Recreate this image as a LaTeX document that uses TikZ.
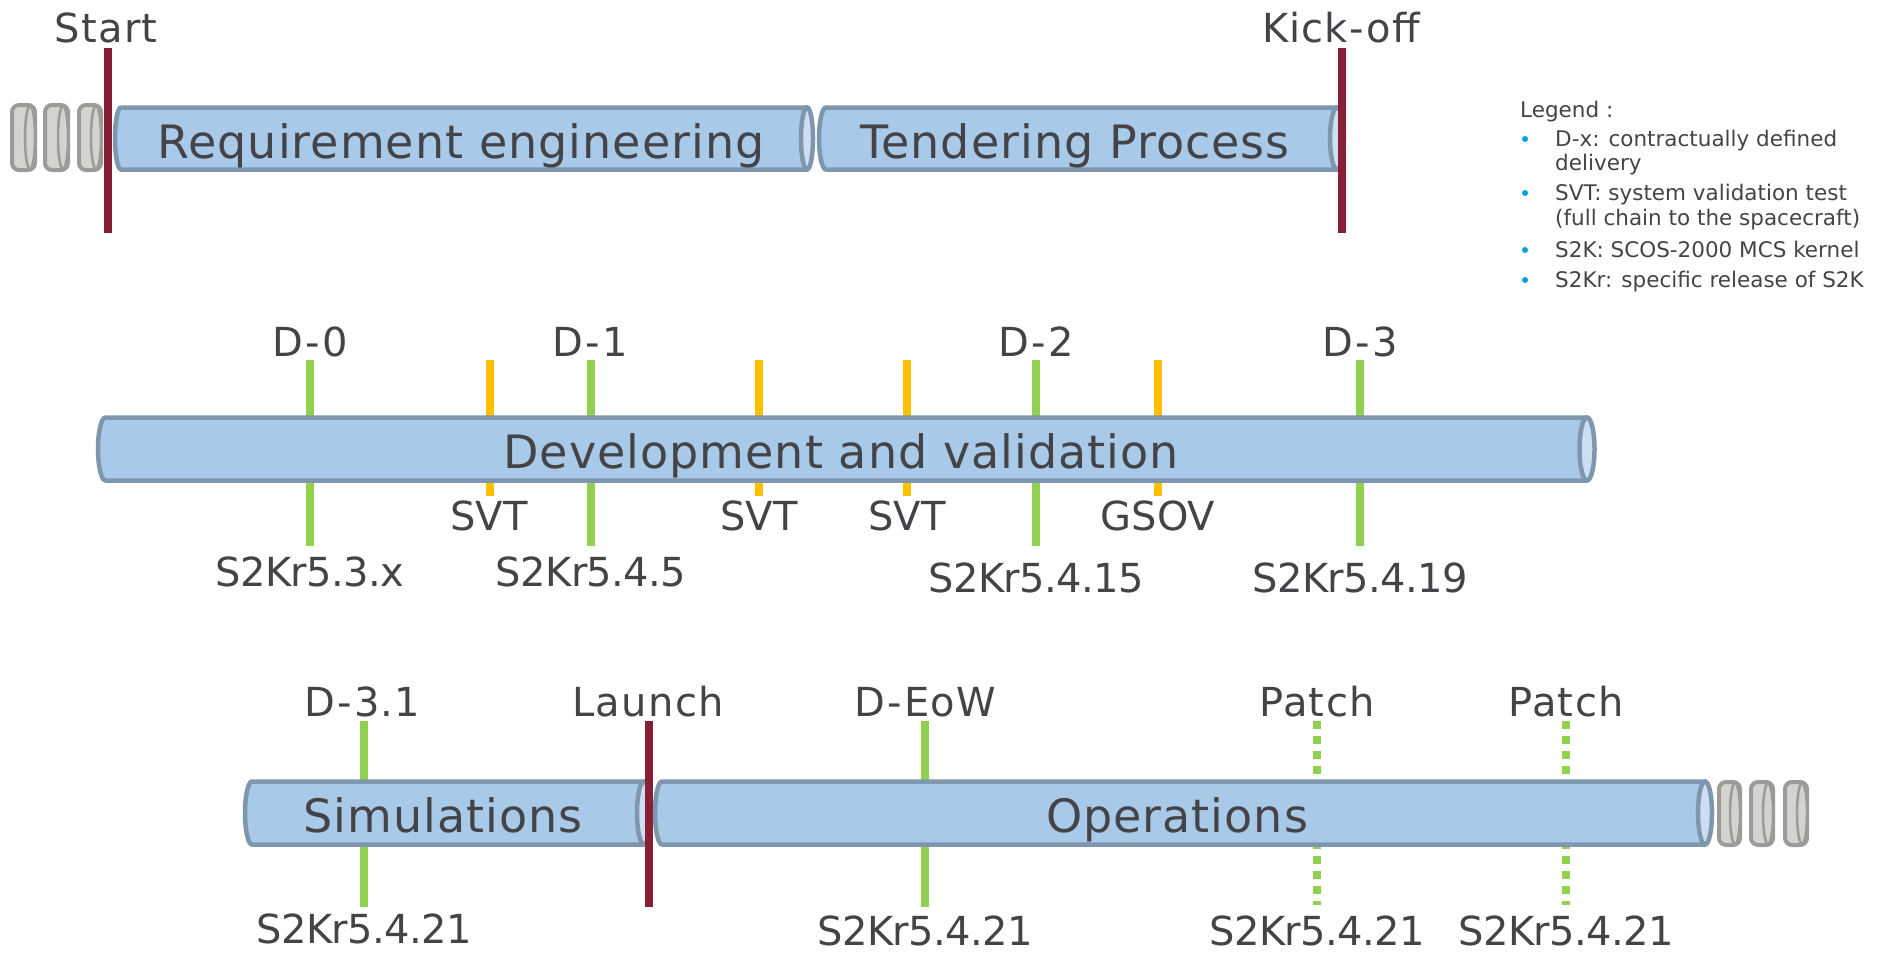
\documentclass[tikz,border=0pt]{standalone}
\usepackage{fontspec}
\setmainfont{DejaVu Sans}

\definecolor{tubefill}{RGB}{169,201,232}
\definecolor{tubeline}{RGB}{127,150,175}
\definecolor{tubeend}{RGB}{205,222,242}
\definecolor{diskfill}{RGB}{211,212,208}
\definecolor{diskline}{RGB}{155,155,153}
\definecolor{milestone}{RGB}{135,32,52}
\definecolor{delivery}{RGB}{146,208,80}
\definecolor{testmark}{RGB}{255,192,0}
\definecolor{ink}{RGB}{68,68,72}
\definecolor{bulletblue}{RGB}{0,160,222}

% horizontal cylinder: #1 left x, #2 x of the front cap, #3 top y, #4 bottom y,
% #5 cap half-width
\newcommand\cylinder[5]{%
  \draw[tube body] (#2,#3) -- ({#1+#5},#3)
    arc[start angle=90,end angle=270,x radius=#5,y radius={(#3-(#4))/2}]
    -- (#2,#4) -- cycle;
  \draw[tube cap] (#2,{(#3+(#4))/2}) ellipse[x radius=#5,y radius={(#3-(#4))/2}];
}
% grey end-of-timeline disk: #1 left x, #2 right x, #3 top y, #4 bottom y
\newcommand\disk[4]{%
  \draw[disk body] (#1,#3) rectangle (#2,#4);
  \draw[disk cap] ({#2-5},{(#3+(#4))/2}) ellipse[x radius=5,y radius={(#3-(#4))/2-1}];
}
% hyphen with a little extra room
\newcommand\hy{\kern2.5pt-\kern2.5pt}

\tikzset{
  tube body/.style={fill=tubefill,draw=tubeline,line width=4.5pt,line join=round},
  tube cap/.style={fill=tubeend,draw=tubeline,line width=4.5pt},
  disk body/.style={fill=diskfill,draw=diskline,line width=4pt,rounded corners=7pt},
  disk cap/.style={fill=diskfill,draw=diskline,line width=2.5pt},
  deliv/.style={draw=delivery,line width=8pt},
  svtmark/.style={draw=testmark,line width=8pt},
  patchmark/.style={draw=delivery,line width=8pt,dash pattern=on 8pt off 7pt},
  gate/.style={draw=milestone,line width=8pt},
  lbl/.style={text=ink,inner sep=0pt,font=\fontsize{40}{48}\selectfont,
    text height=29pt,text depth=0pt},
  wide/.style={font=\fontsize{40}{48}\selectfont\addfontfeature{LetterSpace=3.5}},
  semi/.style={font=\fontsize{40}{48}\selectfont\addfontfeature{LetterSpace=2}},
  tight/.style={font=\fontsize{40}{48}\selectfont\addfontfeature{LetterSpace=-1.5}},
  phase/.style={text=ink,inner sep=0pt,
    font=\fontsize{46}{54}\selectfont\addfontfeature{LetterSpace=2.2},
    text height=33.5pt,text depth=0pt},
  legtxt/.style={text=ink,inner sep=0pt,anchor=west,font=\fontsize{21.5}{26}\selectfont,
    text height=15.7pt,text depth=0pt},
  legdot/.style={fill=bulletblue,circle,inner sep=0pt,minimum size=6pt},
}

\begin{document}
\begin{tikzpicture}[x=1pt,y=1pt]
\useasboundingbox (0,0) rectangle (1889,-956);

% ---------- tick end points ----------
\foreach \n/\x in {d0/310,d1/591,d2/1036,d3/1360}{
  \coordinate (\n t) at (\x,-360);
  \coordinate (\n b) at (\x,-546);
}
\foreach \n/\x in {s1/490,s2/759,s3/907,gs/1158}{
  \coordinate (\n t) at (\x,-360);
  \coordinate (\n b) at (\x,-496);
}
\foreach \n/\x in {d31/364,eow/925}{
  \coordinate (\n t) at (\x,-721);
  \coordinate (\n b) at (\x,-907);
}
\foreach \n/\x in {p1/1317,p2/1566}{
  \coordinate (\n t) at (\x,-721);
  \coordinate (\n b) at (\x,-905);
}
\coordinate (startt) at (108,-48);   \coordinate (startb) at (108,-233);
\coordinate (kickt) at (1342,-48);   \coordinate (kickb) at (1342,-233);
\coordinate (launcht) at (649,-721); \coordinate (launchb) at (649,-907);

% ---------- ticks behind the tubes ----------
\foreach \n in {d0,d1,d2,d3,d31,eow}{ \draw[deliv] (\n t) -- (\n b); }
\foreach \n in {s1,s2,s3,gs}{ \draw[svtmark] (\n t) -- (\n b); }
\foreach \n in {p1,p2}{ \draw[patchmark] (\n t) -- (\n b); }

% ---------- tubes ----------
\disk{12}{35}{-105}{-170}
\disk{45}{68}{-105}{-170}
\disk{79}{101}{-105}{-170}
\cylinder{115}{807}{-107.5}{-169.5}{6}
\cylinder{819}{1337}{-107.5}{-169.5}{7}

\cylinder{98}{1587}{-417.5}{-480.5}{7.5}

\cylinder{245}{644}{-781.5}{-844.5}{7}
\cylinder{655}{1705}{-781.5}{-844.5}{7}
\disk{1719}{1740}{-782}{-845}
\disk{1751}{1773}{-782}{-845}
\disk{1785}{1807}{-782}{-845}

% ---------- milestones ----------
\draw[gate] (startt) -- (startb);
\draw[gate] (kickt) -- (kickb);
\draw[gate] (launcht) -- (launchb);

% ---------- phase names ----------
\node[phase] (req)  at (461,-141.5) {Requirement engineering};
\node[phase] (tend) at (1075,-141.5) {Tendering Process};
\node[phase] (dev)  at (841,-451.5) {Development and validation};
\node[phase] (sim)  at (443,-816) {Simulations};
\node[phase] (ops)  at (1177,-816) {Operations};

% ---------- labels ----------
\node[lbl,wide] (lstart) at (106,-28) {Start};
\node[lbl,semi] (lkick)  at (1341,-28) {Kick\hy off};

\node[lbl,semi] (ld0) at (310,-342) {D\hy 0};
\node[lbl,semi] (ld1) at (590,-342) {D\hy 1};
\node[lbl,semi] (ld2) at (1036,-342) {D\hy 2};
\node[lbl,semi] (ld3) at (1360,-342) {D\hy 3};
\node[lbl] (ls1) at (489,-516) {SVT};
\node[lbl] (ls2) at (759,-516) {SVT};
\node[lbl] (ls3) at (907,-516) {SVT};
\node[lbl] (lgs) at (1158,-516) {GSOV};
\node[lbl,tight] (r0) at (310,-572) {S2Kr5.3.x};
\node[lbl,tight] (r1) at (591,-572) {S2Kr5.4.5};
\node[lbl,tight] (r2) at (1036,-578) {S2Kr5.4.15};
\node[lbl,tight] (r3) at (1360,-578) {S2Kr5.4.19};

\node[lbl,semi] (ld31)    at (362,-702) {D\hy 3.1};
\node[lbl,wide] (llaunch) at (648,-702) {Launch};
\node[lbl,semi] (leow)    at (925,-702) {D\hy EoW};
\node[lbl,wide] (lp1)     at (1317,-702) {Patch};
\node[lbl,wide] (lp2)     at (1566,-702) {Patch};
\node[lbl,tight] (r31) at (364,-929) {S2Kr5.4.21};
\node[lbl,tight] (reo) at (925,-931) {S2Kr5.4.21};
\node[lbl,tight] (rp1) at (1317,-931) {S2Kr5.4.21};
\node[lbl,tight] (rp2) at (1566,-931) {S2Kr5.4.21};

% ---------- legend ----------
\node[legtxt] (leg) at (1520,-110) {Legend :};
\foreach \y/\t in {-139/{D-x: contractually defined},
                   -193/{SVT: system validation test},
                   -250/{S2K: SCOS-2000 MCS kernel},
                   -280/{S2Kr: specific release of S2K}}{
  \node[legdot] at (1525,\y) {};
  \node[legtxt] at (1555,\y) {\t};
}
\node[legtxt] (legb) at (1555,-163) {delivery};
\node[legtxt] (legc) at (1555,-218) {(full chain to the spacecraft)};
\end{tikzpicture}
\end{document}
